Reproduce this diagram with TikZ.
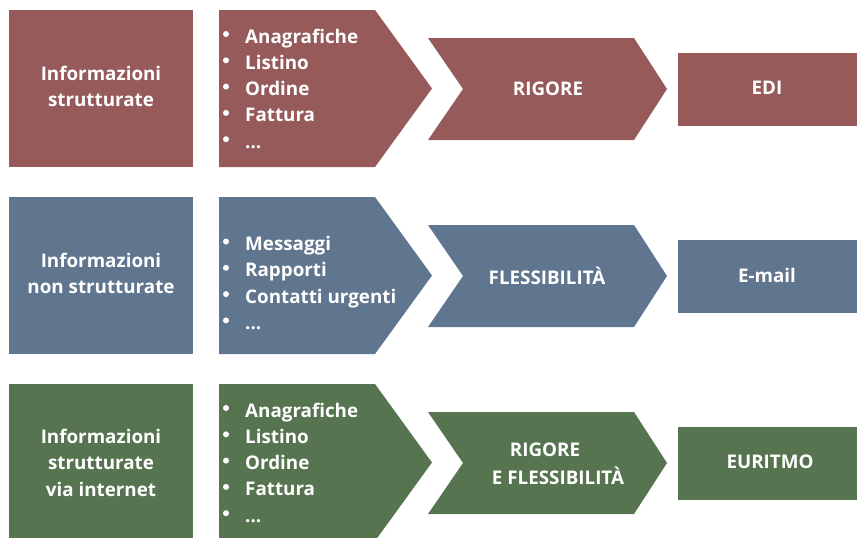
\documentclass[tikz,border=0pt]{standalone}
\usepackage{fontspec}
\setmainfont{Open Sans}
\definecolor{cred}{RGB}{150,90,90}
\definecolor{cblue}{RGB}{96,117,142}
\definecolor{cgreen}{RGB}{86,116,79}
\newcommand\mydots{...}
\tikzset{
  lbl/.style={text=white, font=\bfseries\fontsize{18.8}{26.5}\selectfont, align=center, inner sep=0pt},
  item/.style={text=white, font=\bfseries\fontsize{18.8}{26.5}\selectfont, anchor=base west, inner sep=0pt},
}
\begin{document}
\begin{tikzpicture}[x=1pt,y=-1pt]
\useasboundingbox (0,0) rectangle (857,538);
% row shapes
\foreach \dy/\c in {0/cred,187/cblue,374/cgreen}{
  \fill[\c] (9,10+\dy) rectangle (193,167+\dy);
  \fill[\c] (219,10+\dy) -- (375,10+\dy) -- (432,88.5+\dy) -- (375,167+\dy) -- (219,167+\dy) -- cycle;
  \fill[\c] (428,38+\dy) -- (634,38+\dy) -- (667,89+\dy) -- (634,140+\dy) -- (428,140+\dy) -- (463,89+\dy) -- cycle;
  \fill[\c] (678,53+\dy) rectangle (857,126+\dy);
}
% row 1
\node[lbl] (a1) at (101,86.5) {Informazioni\\strutturate};
\node[lbl] (c1) at (548,89) {RIGORE};
\node[lbl] (d1) at (767,88) {EDI};
\foreach \t [count=\i from 0] in {Anagrafiche,Listino,Ordine,Fattura,\mydots}{
  \node[item] (b1\i) at (245,43+26.3*\i) {\t};
  \fill[white] (226,34+26.3*\i) circle (3);
}
% row 2
\node[lbl] (a2) at (101,273.5) {Informazioni\\non strutturate};
\node[lbl] (c2) at (547,275.5) {FLESSIBILITÀ};
\node[lbl] (d2) at (767,275) {E-mail};
\foreach \t [count=\i from 0] in {Messaggi,Rapporti,Contatti urgenti,\mydots}{
  \node[item] (b2\i) at (245,250.5+26.3*\i) {\t};
  \fill[white] (226,241.5+26.3*\i) circle (3);
}
% row 3
\node[lbl] (a3) at (101,462.5) {Informazioni\\strutturate\\via internet};
\node[lbl] (c3a) at (545,450) {RIGORE};
\node[lbl] (c3b) at (558,476) {E FLESSIBILITÀ};
\node[lbl] (d3) at (770,462) {EURITMO};
\foreach \t [count=\i from 0] in {Anagrafiche,Listino,Ordine,Fattura,\mydots}{
  \node[item] (b3\i) at (245,417+26.3*\i) {\t};
  \fill[white] (226,408+26.3*\i) circle (3);
}
\end{tikzpicture}
\end{document}
